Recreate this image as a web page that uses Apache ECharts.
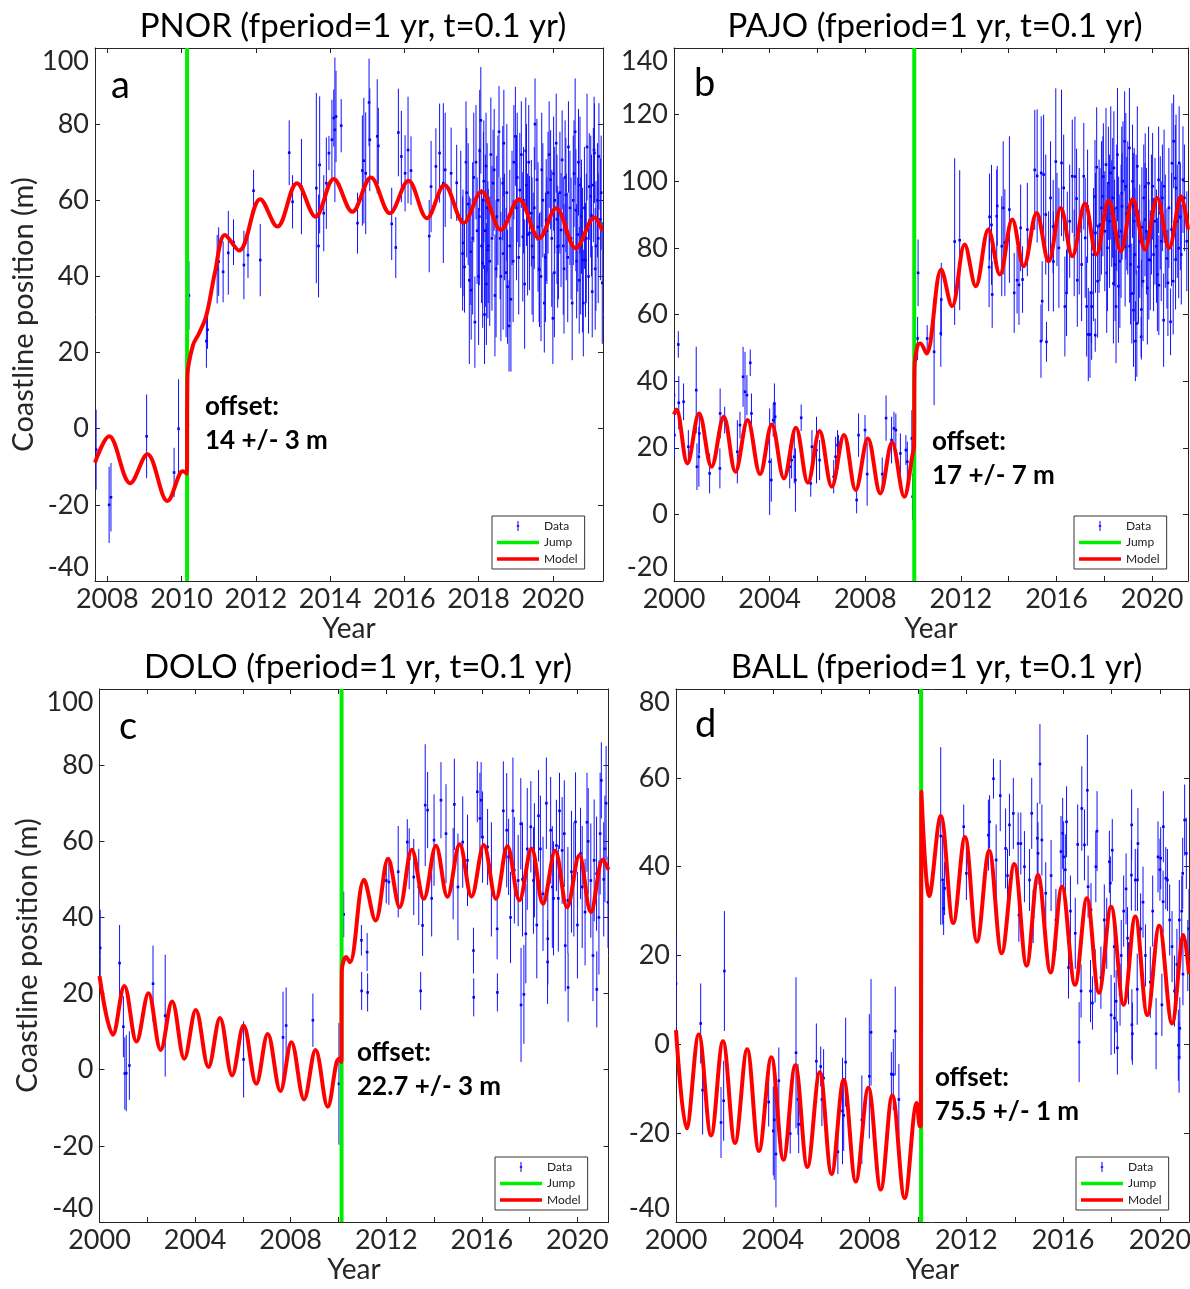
<!DOCTYPE html>
<html><head><meta charset="utf-8">
<script src="https://cdn.jsdelivr.net/npm/echarts@6/dist/echarts.min.js"></script>
<style>html,body{margin:0;padding:0;background:#fff}#c{width:1190px;height:1289px}</style>
</head><body><div id="c"></div>
<script>
// ---------------- DATA ----------------
// Data points: [year, coastline position (m), half error bar (m)]
const pnorData = [
[2007.70,-5.5,10.5],[2008.05,-20,10],[2008.10,-18,9],[2009.06,-2,11],[2009.80,-11.5,6.5],[2009.92,0,13],[2010.17,1,5],[2010.20,35,9],[2010.67,23,7],[2010.70,26,5],
[2010.96,41.9,9],[2011.00,43.9,9],[2011.12,41.2,8],[2011.26,46.2,11],[2011.40,49,6],[2011.68,43,9],[2011.79,45.6,6],[2011.94,62.5,5.5],[2012.12,44.3,9.5],[2012.90,72.5,8.5],
[2012.99,59.6,7],[2013.23,63.6,12.5],[2013.63,63.2,25],[2013.69,48,13.5],[2013.72,69.3,18],[2013.83,56.6,10],[2013.90,64.5,12],[2013.97,72.4,4.5],[2014.05,75.9,10.5],[2014.10,81.6,7.5],
[2014.13,78.5,19],[2014.16,82,12],[2014.30,79.6,7],[2014.74,54,8],[2014.87,67.8,14.5],[2014.91,70.4,16.5],[2014.96,67.1,16],[2015.05,85.7,11.5],[2015.07,75.9,13.5],[2015.27,76.8,15],
[2015.30,74.3,10],[2015.66,53.8,9.5],[2015.77,47.6,8],[2015.84,77.8,11.5],[2015.92,71.5,12],[2016.02,67.1,10],[2016.10,73.2,14],[2016.18,67.8,9],[2016.67,50.6,9.5],[2016.72,63.6,12],
[2016.85,68.9,10],[2016.95,72.4,13],[2017.05,64.5,21],[2017.10,68,15],[2017.26,67.1,12],[2017.41,64.6,10],
[2017.52,55,18],[2017.57,46,15],[2017.58,48.8,14],[2017.62,42.5,12],[2017.66,70,16],[2017.68,62,17],[2017.72,59,16],[2017.75,39,22],[2017.79,46.5,14],[2017.80,36.4,13],
[2017.84,50,20],[2017.87,66,17],[2017.90,28,12],[2017.93,70,15],[2017.96,52,14],[2018.00,40,18],[2018.02,55.7,18],[2018.03,73,16],[2018.06,81,14],[2018.08,48,15],
[2018.11,43.5,17],[2018.13,60,18],[2018.14,65,16],[2018.16,30,13],[2018.18,52,20],[2018.20,69,14],[2018.21,38,16],[2018.23,58,17],[2018.25,47,18],[2018.26,48,15],
[2018.30,44,17],[2018.33,72,15],[2018.36,50,19],[2018.39,64.5,14],[2018.42,68,16],[2018.44,35,16],[2018.47,42,18],[2018.49,55.7,16],[2018.52,60,17],[2018.55,78,12],
[2018.58,50,16],[2018.60,40,17],[2018.65,64.5,15],[2018.66,46,20],[2018.68,75,14],[2018.70,53,14],[2018.74,41,17],[2018.76,62,18],[2018.78,37.3,15],[2018.82,27,12],
[2018.84,48,20],[2018.87,34,19],[2018.90,58,15],[2018.93,44,16],[2018.95,70,15],[2018.99,76.8,13],[2019.02,58,19],[2019.04,66,17],[2019.08,45,15],[2019.11,62.7,15],
[2019.15,72,14],[2019.19,50.4,17],[2019.21,60,14],[2019.24,38,17],[2019.27,73,14],[2019.29,64,16],[2019.32,51,16],[2019.35,70,15],[2019.37,51.4,15],[2019.42,56.6,14],
[2019.44,48,18],[2019.47,45,17],[2019.50,58,16],[2019.52,80,12],[2019.57,65.4,16],[2019.60,53,17],[2019.63,42,14],[2019.64,41.7,15],[2019.68,40,17],[2019.70,68,15],
[2019.73,60,15],[2019.77,33,13],[2019.80,45,17],[2019.82,54.8,16],[2019.84,52,14],[2019.87,62,16],[2019.90,72,14],[2019.94,65.4,13],[2019.97,50,18],[2020.00,29,12],
[2020.02,67,15],[2020.04,41,17],[2020.05,60,14],[2020.09,75,13],[2020.11,55,17],[2020.13,47.8,16],[2020.15,48,14],[2020.19,62,16],[2020.22,52.2,15],[2020.25,70.6,13],
[2020.28,48,18],[2020.30,42,17],[2020.33,66,15],[2020.35,61.4,15],[2020.36,53,14],[2020.40,45,17],[2020.42,74,12],[2020.46,58,15],[2020.49,50,16],[2020.52,33,15],
[2020.55,60,17],[2020.57,67,14],[2020.60,78,14],[2020.62,57.4,16],[2020.64,44,15],[2020.67,51,15],[2020.69,70,14],[2020.71,39,14],[2020.73,64,18],[2020.75,48,18],
[2020.77,55.7,15],[2020.80,44.3,19],[2020.82,33,14],[2020.85,58,16],[2020.88,44.3,15],[2020.90,50,17],[2020.92,74,14],[2020.96,40,15],[2020.98,63.6,14],[2021.02,61,16],
[2021.04,56,16],[2021.06,36,12],[2021.09,64,15],[2021.11,73.2,14],[2021.12,72.4,13],[2021.14,42,16],[2021.16,48,17],[2021.20,60,15],[2021.22,50,17],[2021.24,71.5,14],
[2021.28,55,16],[2021.30,62,15],[2021.33,38.3,16]
];
const pnorModel = [
[2007.67,-8.9],[2008.05,-2],[2008.62,-14.3],[2009.08,-6.7],[2009.62,-19],[2009.96,-11.7],[2010.04,-11.2],[2010.14,-11.8],[2010.16,14],[2010.31,22],
[2010.47,25],[2010.67,29.8],[2010.90,41],[2011.17,50.9],[2011.55,46.8],[2012.12,60.3],[2012.58,53.1],[2013.11,64.5],[2013.61,55.7],[2014.10,65.6],
[2014.60,57],[2015.10,66],[2015.61,56.6],[2016.11,65.1],[2016.61,55.3],[2017.08,64],[2017.60,54.1],[2018.08,62.3],[2018.60,52.2],[2019.09,60.3],
[2019.63,50],[2020.09,57.9],[2020.62,47.4],[2021.12,55.5],[2021.33,52]
];
const pnorJump = 2010.15;
const pnorXTicks = [2008,2010,2012,2014,2016,2018,2020];
const pnorYTicks = [-40,-20,0,20,40,60,80,100];

const pajoData = [
[2000.00,35.8,7.5],[2000.02,23.8,6.5],[2000.18,51,4],[2000.20,33.5,8],[2000.40,33.8,5.5],[2000.60,20.3,5],[2000.93,37.3,13],[2000.96,14.3,7],[2001.04,17.3,9],[2001.06,24.3,6],
[2001.49,12.3,6],[2001.93,30.3,7.5],[2001.92,13.8,6],[2002.12,28.3,4],[2002.65,18.8,9.5],[2002.76,26.8,4],[2002.89,41.3,9],[2002.97,36.8,12],[2003.05,35.8,6],[2003.19,45.5,4],
[2003.24,30.3,6],[2004.00,15.8,16],[2004.07,10.3,6.5],[2004.15,28.3,5],[2004.20,33.3,6],[2004.23,29.3,4],[2004.84,14.3,6.5],[2004.92,16.3,5.5],[2005.03,17.3,8],[2005.08,10.3,9.5],
[2005.32,29,4],[2005.72,9.3,4],[2005.77,20.3,5],[2005.96,19.3,10],[2006.09,16.3,6],[2006.68,11.3,5],[2006.76,17.3,6],[2006.84,20.8,4.5],[2006.88,18.8,5],[2007.64,4.3,4],
[2007.72,23.8,6.5],[2007.99,25.3,4.5],[2008.08,12.1,9.5],[2008.71,12.1,5],[2008.87,28.9,6.8],[2009.10,22.3,7],[2009.20,25.8,5],[2009.28,25.3,5],[2009.47,18.3,6],[2009.70,19.3,4.5],
[2009.76,15.8,6],[2009.95,22.8,8.5],[2009.98,5.3,7],
[2010.19,52.8,6.5],[2010.21,72.5,10],[2010.59,52.8,4],[2010.88,48.8,16],[2011.16,54.3,10],[2011.18,64.5,11],[2011.74,81.9,25],[2011.95,82.3,21],[2013.18,74.2,12],[2013.20,89.3,13],
[2013.28,86.9,18],[2013.31,66,10],[2013.50,89.5,14],[2013.52,92.6,12],[2013.71,80.5,15],[2013.77,92,20],[2013.84,81.6,16],[2014.03,91.5,22],[2014.23,66.5,12],[2014.35,70.3,10],
[2014.43,68.9,12],[2014.50,86,13],[2014.58,70.5,10],[2014.78,85.5,14],[2015.09,103.4,18],[2015.19,101.6,20],[2015.35,52,11],[2015.36,102.5,17],[2015.40,64,12],[2015.46,102,18],
[2015.55,90,18],[2015.58,51.8,6],[2015.67,76,15],[2015.75,95,17],[2015.86,86.4,14],[2015.87,75.9,15],[2015.97,105.9,22],[2016.02,88.5,14],[2016.10,80,18],[2016.21,105.5,22],
[2016.30,98,16],[2016.35,62.4,15],[2016.42,66.5,13],[2016.45,81.9,15],[2016.55,88,17],[2016.66,101.5,17],[2016.74,78.5,13],[2016.77,101.4,18],[2016.84,94.8,15],[2016.87,70.3,14],
[2016.95,85,19],[2017.05,75,17],[2017.14,101.5,16],[2017.20,83,18],[2017.26,62.4,15],[2017.30,92.5,17],[2017.33,54,14],[2017.40,54,13],[2017.46,66.5,15],[2017.47,62.4,16],
[2017.55,78,20],[2017.61,95.4,17],[2017.62,53.8,5],[2017.63,84.5,18],[2017.68,104.2,18],[2017.72,70,17],[2017.78,86.5,20],[2017.82,87,17],[2017.88,92,20],[2017.94,95.5,18],
[2017.96,101.4,16],[2018.02,85,18],[2018.07,105,17],[2018.10,72.5,18],[2018.13,80,19],[2018.17,99.4,17],[2018.22,88,20],[2018.27,102.5,20],[2018.31,90.3,16],[2018.35,95,18],
[2018.38,69.3,18],[2018.40,104,17],[2018.43,84.5,16],[2018.45,75,17],[2018.49,62.4,17],[2018.52,92,19],[2018.55,108,20],[2018.59,68.5,17],[2018.60,83.4,18],[2018.65,76,20],
[2018.70,85,20],[2018.73,96.4,20],[2018.74,92.5,16],[2018.78,100,18],[2018.85,112,15],[2018.87,80.4,18],[2018.90,98.5,22],[2018.94,90.3,17],[2018.98,92,20],[2019.05,110,18],
[2019.06,80.5,17],[2019.10,75,18],[2019.15,66.3,15],[2019.18,100,17],[2019.22,61.3,17],[2019.23,92.5,16],[2019.25,88,22],[2019.28,78,20],[2019.30,52,12],[2019.33,90,18],
[2019.36,57.3,16],[2019.38,104.5,18],[2019.43,74.3,17],[2019.48,82,17],[2019.54,53.3,6],[2019.55,61.5,15],[2019.57,86.2,18],[2019.62,70,18],[2019.65,95,16],[2019.70,88.5,17],
[2019.71,98.4,16],[2019.76,85,19],[2019.80,68,17],[2019.85,99.4,17],[2019.86,76.5,18],[2019.92,76.3,15],[2019.97,90,18],[2020.02,98.5,16],[2020.06,78,17],[2020.12,88,19],
[2020.18,80.5,17],[2020.22,72,17],[2020.27,100.4,16],[2020.28,68.8,15],[2020.34,90.5,17],[2020.38,82,18],[2020.43,95,16],[2020.48,58.3,14],[2020.50,98.5,17],[2020.55,85,17],
[2020.62,76.8,15],[2020.66,69.5,16],[2020.70,92,18],[2020.77,57.8,10],[2020.81,85.5,17],[2020.83,105.4,18],[2020.88,70,16],[2020.90,112,14],[2020.97,100.9,16],[2020.98,76.5,15],
[2021.00,98,22],[2021.05,88,17],[2021.11,79.9,15],[2021.13,105.5,17],[2021.18,89.3,16],[2021.22,78,15],[2021.29,100.5,16],[2021.35,95,16],[2021.45,82,15]
];
const pajoModel = [
[2000.00,30],[2000.10,31.5],[2000.56,15.3],[2001.05,30.3],[2001.57,14.3],[2002.08,29.3],[2002.57,12.8],[2003.08,28.3],[2003.60,12.1],[2004.09,27],
[2004.60,10.8],[2005.10,26],[2005.60,9.5],[2006.09,25],[2006.60,8.3],[2007.11,23.8],[2007.60,7.3],[2008.11,22.8],[2008.63,6.3],[2009.12,21.6],
[2009.63,5.3],[2009.98,18],[2010.04,20.3],[2010.06,44],[2010.19,50.8],[2010.30,51.3],[2010.56,48.3],[2011.18,73.5],[2011.63,62.5],[2012.16,81],
[2012.62,68.5],[2013.15,85.5],[2013.63,72],[2014.15,88.5],[2014.63,74.5],[2015.17,90.5],[2015.67,76],[2016.18,92],[2016.66,77.5],[2017.19,93.3],
[2017.67,78],[2018.18,94.2],[2018.69,79],[2019.19,94.7],[2019.70,79.5],[2020.21,95],[2020.71,80],[2021.21,95.5],[2021.50,85.5]
];
const pajoJump = 2010.05;
const pajoXTicks = [2000,2002,2004,2006,2008,2010,2012,2014,2016,2018,2020];
const pajoXLabels = [2000,2004,2008,2012,2016,2020];
const pajoYTicks = [-20,0,20,40,60,80,100,120,140];

const doloData = [
[2000.03,32,10],[2000.84,28,10],[2001.00,11.3,8],[2001.06,-1,9.5],[2001.12,-0.9,10],[2001.25,1.1,9],[2002.24,22.6,10],[2002.75,14.2,16],[2006.03,2.7,10],[2007.68,8.5,12],
[2007.81,11.6,10],[2008.93,13,7],[2010.02,-3.7,16],
[2010.22,40.8,6],[2010.96,34,4],[2010.97,20.7,5],[2011.20,30.9,5],[2011.22,20.3,5],[2012.00,49.7,6],[2012.11,49.3,6],[2012.50,52,12],[2012.88,59.8,6],[2012.96,55.4,8],[2013.15,50.6,10],
[2013.36,48,10],[2013.44,20.7,5],[2013.52,37.9,8],[2013.63,69.5,16],[2013.73,68.2,10],[2013.90,45,10],[2014.00,60.3,12],[2014.29,70.8,10],[2014.50,62,13],[2014.80,51.5,12],
[2014.85,69.7,12],[2015.00,48,14],[2015.20,59.8,12],[2015.40,55,12],[2015.65,31.3,6],[2015.66,19,5],[2015.81,73,8],[2015.92,66,12],[2015.97,70.8,10],[2016.03,61.1,12],
[2016.24,58.5,10],[2016.40,50,15],[2016.64,37,8],[2016.65,20.3,5],[2016.90,68,13],[2017.04,62.9,15],[2017.12,55.9,10],[2017.20,40,12],[2017.30,68,14],[2017.36,52.4,14],
[2017.52,49.7,12],[2017.63,64.6,12],[2017.64,17,15],[2017.70,50,15],[2017.76,19.8,13],[2017.84,35.7,13],[2017.90,58,16],[2018.05,63.8,12],[2018.16,49.7,14],[2018.20,55,15],
[2018.30,38,14],[2018.37,66.7,12],[2018.45,58,14],[2018.56,46.2,15],[2018.70,70,12],[2018.75,28.3,11],[2018.76,34.4,12],[2018.88,62.9,14],[2018.95,48,16],[2019.00,45,15],
[2019.12,58.9,12],[2019.20,45,14],[2019.25,68,10],[2019.36,57.6,14],[2019.45,62,14],[2019.49,32.6,12],[2019.60,44.5,14],[2019.61,21.6,9],[2019.75,52,16],[2019.85,50,15],
[2019.92,65.1,13],[2020.00,38,14],[2020.13,56.8,12],[2020.20,48,16],[2020.32,41.4,14],[2020.40,65,13],[2020.45,60,14],[2020.56,49.7,15],[2020.65,30,12],[2020.70,55,16],
[2020.80,51.5,15],[2020.81,21.1,10],[2020.90,40,15],[2020.95,62,16],[2021.00,76,10],[2021.10,50,15],[2021.15,58,14],[2021.20,70,15],[2021.28,44,12]
];
const doloModel = [
[2000.00,24.6],[2000.56,9.2],[2001.04,22],[2001.55,7.4],[2002.05,20.1],[2002.56,5.2],[2003.04,17.9],[2003.55,2.9],[2004.03,15.7],[2004.56,0.7],
[2005.04,13.6],[2005.55,-1.5],[2006.03,11.6],[2006.56,-3.7],[2007.04,9.4],[2007.57,-5.6],[2008.03,7.2],[2008.56,-7.8],[2009.04,5.2],[2009.55,-9.7],
[2009.92,2],[2010.03,2.9],[2010.12,2],[2010.14,26],[2010.32,29.6],[2010.48,28.2],[2011.07,49.9],[2011.55,39.2],[2012.08,55.4],[2012.56,42.7],
[2013.07,57.8],[2013.57,44.9],[2014.08,58.8],[2014.56,45.4],[2015.07,59.2],[2015.57,45.5],[2016.08,59],[2016.59,44.9],[2017.07,58.7],[2017.57,44.5],
[2018.08,58.1],[2018.56,43.6],[2019.07,57.5],[2019.57,42.7],[2020.08,56.3],[2020.56,41.4],[2021.07,55.2],[2021.30,52.5]
];
const doloJump = 2010.13;
const doloXTicks = [2000,2002,2004,2006,2008,2010,2012,2014,2016,2018,2020];
const doloXLabels = [2000,2004,2008,2012,2016,2020];
const doloYTicks = [-40,-20,0,20,40,60,80,100];

const ballData = [
[2000.00,13.7,11],[2001.02,4.7,9],[2001.10,-10.3,10],[2001.86,-17.6,8],[2001.97,-12.7,9],[2002.00,16.5,13.5],[2003.83,-13,5.5],[2004.02,-19.5,10],[2004.06,-17,13.5],[2004.13,-24.7,12],
[2004.25,-8.2,7.5],[2004.72,-20.1,4.5],[2004.96,-1.9,17],[2005.04,-12.4,8],[2005.07,-18,6.5],[2005.80,-3.8,8.5],[2005.98,-5,4.5],[2006.10,-7.6,6.5],[2006.03,-12.4,6],[2006.69,-24.2,5],
[2006.88,-15,12],[2007.01,-4,10],[2006.93,-16,8],[2007.68,-17,10],[2007.99,-7.2,14],[2008.06,2.7,12],[2008.90,-6.7,5],[2008.98,-6.8,8],[2009.06,3,10],[2009.21,-12.4,8],
[2010.94,46.9,20],[2011.02,37,10],[2011.10,35.1,6],[2011.06,30.6,6],[2011.89,49,5],[2012.00,38.5,6],[2012.91,47.1,8],[2012.96,50.1,6],[2013.12,59.8,4.5],[2013.23,41.5,8],
[2013.40,56,8],[2013.62,44.1,9],[2013.70,38,6],[2013.78,49.4,7],[2013.94,52,8],[2014.14,45.2,7],[2014.17,29.1,6],[2014.25,45.2,7],[2014.40,40,8],[2014.61,37,7],
[2014.70,52,8],[2014.76,28.8,6],[2014.93,46.4,8],[2014.96,43,7],[2015.04,63.1,9],[2015.12,46,8],[2015.28,34,7],[2015.50,38,8],[2015.70,28,7],[2015.91,43.4,8],
[2015.98,47.5,8],[2016.02,42.2,8],[2016.09,39.3,8],[2016.14,50.1,8],[2016.22,17.3,7],[2016.30,30,8],[2016.50,25,8],[2016.60,45,9],[2016.66,0.5,9],[2016.74,12,6],[2016.77,53.1,9.5],
[2016.88,44.9,8],[2017.00,57.2,12.5],[2017.03,35.5,7],[2017.13,12,7],[2017.15,30.3,6],[2017.21,9.3,6],[2017.32,15.4,6],[2017.35,40,8],[2017.40,48,9],[2017.56,15,7],[2017.70,28,8],
[2017.80,25,8],[2017.91,41.1,7],[2017.95,36.3,6],[2017.98,6.6,9],[2018.03,43.7,7],[2018.11,22,7],[2018.12,5.9,8],[2018.19,9.7,7],[2018.24,-0.8,6],[2018.35,11.2,7],[2018.40,20,8],[2018.50,30,8],
[2018.60,35,8],[2018.66,23.9,7],[2018.70,16,7],[2018.82,38.1,8],[2018.83,49.4,8],[2018.84,4.4,8],[2018.86,2.4,7],[2018.98,37,7],[2019.06,12.4,8],[2019.07,37,7],[2019.09,45.2,8],
[2019.20,26,8],[2019.30,32,8],[2019.40,20,7],[2019.60,14,8],[2019.70,30,8],[2019.84,2.4,8],[2019.92,42.2,8],[2020.00,39.3,7],[2020.03,41.9,7],[2020.08,8.9,7],[2020.13,32.1,7],[2020.14,49,8],
[2020.24,37.4,7],[2020.31,37,7],[2020.40,28,8],[2020.50,22,8],[2020.60,12,8],[2020.70,18,8],[2020.76,-0.2,8],[2020.79,-2.9,8],[2020.80,28,9],[2020.82,3.6,7],[2020.90,30,8],[2020.94,38.5,8],[2020.95,15.8,7],
[2021.02,50.5,8],[2021.09,43,8],[2021.15,20,8],[2021.20,26,9]
];
const ballModel = [
[2000.00,3.2],[2000.44,-18.9],[2000.94,2.2],[2001.45,-20.5],[2001.94,0.7],[2002.44,-22.2],[2002.94,-1.1],[2003.43,-24],[2003.94,-2.9],[2004.44,-26],
[2004.93,-4.7],[2005.43,-27.6],[2005.94,-6.3],[2006.43,-29.2],[2006.93,-8],[2007.43,-30.9],[2007.95,-9.8],[2008.46,-32.7],[2008.94,-11.5],[2009.45,-34.6],
[2009.95,-13.2],[2010.08,-18.5],[2010.12,-18.5],[2010.14,56.9],[2010.47,33.4],[2010.94,51.4],[2011.46,27.3],[2011.94,46.7],[2012.44,23.1],[2012.94,43.6],
[2013.46,20.5],[2013.98,40.6],[2014.49,17.7],[2014.96,38.1],[2015.48,16.2],[2015.95,35.5],[2016.49,13.4],[2016.98,32.9],[2017.48,11.6],[2017.98,31],
[2018.50,8.9],[2018.98,28.8],[2019.48,6.6],[2019.97,26.7],[2020.50,4.7],[2020.98,24.6],[2021.20,15.8]
];
const ballJump = 2010.13;
const ballXTicks = [2000,2002,2004,2006,2008,2010,2012,2014,2016,2018,2020];
const ballXLabels = [2000,2004,2008,2012,2016,2020];
const ballYTicks = [-40,-20,0,20,40,60,80];

const titles = ['PNOR (fperiod=1 yr, t=0.1 yr)','PAJO (fperiod=1 yr, t=0.1 yr)','DOLO (fperiod=1 yr, t=0.1 yr)','BALL (fperiod=1 yr, t=0.1 yr)'];
const letters = ['a','b','c','d'];
const offsetLines = [['offset:','14 +/- 3 m'],['offset:','17 +/- 7 m'],['offset:','22.7 +/- 3 m'],['offset:','75.5 +/- 1 m']];

// ---------------- LAYOUT / STYLE ----------------
const FONT = 'Lato, "Noto Sans", sans-serif';
const AX = '#262626';
const panels = [
  {data:pnorData, model:pnorModel, jump:pnorJump, xMin:2007.67, xMax:2021.35, yMin:-40, yMax:100, xTicks:pnorXTicks, xLabels:pnorXTicks, yTicks:pnorYTicks, yName:'Coastline position (m)',
   grid:{left:95, top:48, width:508, height:533}, legend:{left:492, top:516}, offset:{x:205, y:407}, letter:{x:111, y:86}},
  {data:pajoData, model:pajoModel, jump:pajoJump, xMin:2000, xMax:2021.5, yMin:-20, yMax:140, xTicks:pajoXTicks, xLabels:pajoXLabels, yTicks:pajoYTicks, yName:'',
   grid:{left:674, top:48, width:514, height:533}, legend:{left:1074, top:516}, offset:{x:932, y:442}, letter:{x:694, y:84}},
  {data:doloData, model:doloModel, jump:doloJump, xMin:2000, xMax:2021.3, yMin:-40, yMax:100, xTicks:doloXTicks, xLabels:doloXLabels, yTicks:doloYTicks, yName:'Coastline position (m)',
   grid:{left:99.5, top:689, width:509, height:533}, legend:{left:495, top:1157}, offset:{x:357, y:1053}, letter:{x:119, y:727}},
  {data:ballData, model:ballModel, jump:ballJump, xMin:2000, xMax:2021.2, yMin:-40, yMax:80, xTicks:ballXTicks, xLabels:ballXLabels, yTicks:ballYTicks, yName:'',
   grid:{left:676, top:689, width:513, height:533}, legend:{left:1076, top:1157}, offset:{x:935, y:1078}, letter:{x:695, y:725}}
];

const DATA_ICON = 'path://M0,0L0.01,0M42,14L42.01,14M20.5,2L21.5,2L21.5,12L20.5,12ZM19.8,6.2L22.2,6.2L22.2,7.8L19.8,7.8Z';
const LINE_ICON = 'path://M0,0L0.01,0M42,14L42.01,14M0,5.2L42,5.2L42,8.8L0,8.8Z';

function renderErr(params, api) {
  const x = api.value(0), y = api.value(1), e = api.value(2);
  const c = api.coord([x, y]);
  const t = api.coord([x, y + e]);
  const b = api.coord([x, y - e]);
  return {type:'group', children:[
    {type:'line', shape:{x1:c[0], y1:t[1], x2:c[0], y2:b[1]}, style:{stroke:'#1010ff', lineWidth:1}},
    {type:'rect', shape:{x:c[0]-1.3, y:c[1]-1.3, width:2.6, height:2.6}, style:{fill:'#0000ff'}}
  ]};
}

const grid = [], xAxis = [], yAxis = [], series = [], legend = [], graphic = [];
const tickStyle = {inside:true, length:5, lineStyle:{color:AX, width:1}};
const lineStyle = {show:true, onZero:false, lineStyle:{color:AX, width:1}};
const labelStyle = {fontSize:27, fontFamily:FONT, color:AX};

panels.forEach((p, i) => {
  grid.push(Object.assign({containLabel:false, outerBoundsMode:'none'}, p.grid));
  xAxis.push({gridIndex:i, type:'value', position:'bottom', min:p.xMin, max:p.xMax, splitLine:{show:false}, axisLine:lineStyle,
    axisTick:Object.assign({customValues:p.xTicks}, tickStyle),
    axisLabel:Object.assign({customValues:p.xLabels, margin:5, formatter:v => String(v)}, labelStyle),
    name:'Year', nameLocation:'middle', nameGap:34, nameTextStyle:{fontSize:28, fontFamily:FONT, color:AX}});
  xAxis.push({gridIndex:i, type:'value', position:'top', min:p.xMin, max:p.xMax, splitLine:{show:false}, axisLine:lineStyle,
    axisTick:Object.assign({customValues:p.xTicks}, tickStyle), axisLabel:{show:false}});
  yAxis.push({gridIndex:i, type:'value', position:'left', min:p.yMin, max:p.yMax, splitLine:{show:false}, axisLine:lineStyle,
    axisTick:Object.assign({customValues:p.yTicks}, tickStyle),
    axisLabel:Object.assign({customValues:p.yTicks, margin:6, verticalAlignMaxLabel:'top', verticalAlignMinLabel:'bottom', formatter:v => String(v)}, labelStyle),
    name:p.yName, nameLocation:'middle', nameGap:55, nameTextStyle:{fontSize:29, fontFamily:FONT, color:AX}});
  yAxis.push({gridIndex:i, type:'value', position:'right', min:p.yMin, max:p.yMax, splitLine:{show:false}, axisLine:lineStyle,
    axisTick:Object.assign({customValues:p.yTicks}, tickStyle), axisLabel:{show:false}});

  const xi = 2*i, yi = 2*i;
  series.push({name:'Data', type:'custom', xAxisIndex:xi, yAxisIndex:yi, data:p.data, renderItem:renderErr,
    encode:{x:0, y:1}, itemStyle:{color:'#0000ff'}, silent:true, clip:true});
  series.push({name:'Jump', type:'line', xAxisIndex:xi, yAxisIndex:yi, data:[[p.jump, p.yMin],[p.jump, p.yMax]],
    symbol:'none', lineStyle:{color:'#00ee00', width:4}, itemStyle:{color:'#00ee00'}, silent:true});
  series.push({name:'Model', type:'line', xAxisIndex:xi, yAxisIndex:yi, data:p.model, smooth:0.36,
    symbol:'none', lineStyle:{color:'#ff0000', width:4}, itemStyle:{color:'#ff0000'}, silent:true});

  legend.push({left:p.legend.left, top:p.legend.top, orient:'vertical', itemWidth:42, itemHeight:14, itemGap:2.5,
    padding:[3,7,3,5], borderColor:'#333', borderWidth:1, borderRadius:0, backgroundColor:'#fff', selectedMode:false,
    textStyle:{fontSize:12, fontFamily:FONT, color:'#222'},
    data:[{name:'Data', icon:DATA_ICON}, {name:'Jump', icon:LINE_ICON}, {name:'Model', icon:LINE_ICON}]});

  const cx = p.grid.left + p.grid.width/2 + 4;
  graphic.push({type:'text', x:cx, y:p.grid.top - 22, style:{text:titles[i], font:'33px ' + FONT, fill:'#000', textAlign:'center', textVerticalAlign:'middle', align:'center', verticalAlign:'middle'}});
  graphic.push({type:'text', x:p.letter.x, y:p.letter.y, style:{text:letters[i], font:'38px ' + FONT, fill:'#000', textAlign:'left', textVerticalAlign:'middle', align:'left', verticalAlign:'middle'}});
  graphic.push({type:'text', x:p.offset.x, y:p.offset.y, style:{text:offsetLines[i][0], font:'bold 26px ' + FONT, fill:'#000', textAlign:'left', textVerticalAlign:'middle', align:'left', verticalAlign:'middle'}});
  graphic.push({type:'text', x:p.offset.x, y:p.offset.y + 34, style:{text:offsetLines[i][1], font:'bold 26px ' + FONT, fill:'#000', textAlign:'left', textVerticalAlign:'middle', align:'left', verticalAlign:'middle'}});
});

const chart = echarts.init(document.getElementById('c'), null, {renderer:'canvas', width:1190, height:1289});
chart.setOption({backgroundColor:'#fff', animation:false, grid, xAxis, yAxis, series, legend, graphic});
</script></body></html>
